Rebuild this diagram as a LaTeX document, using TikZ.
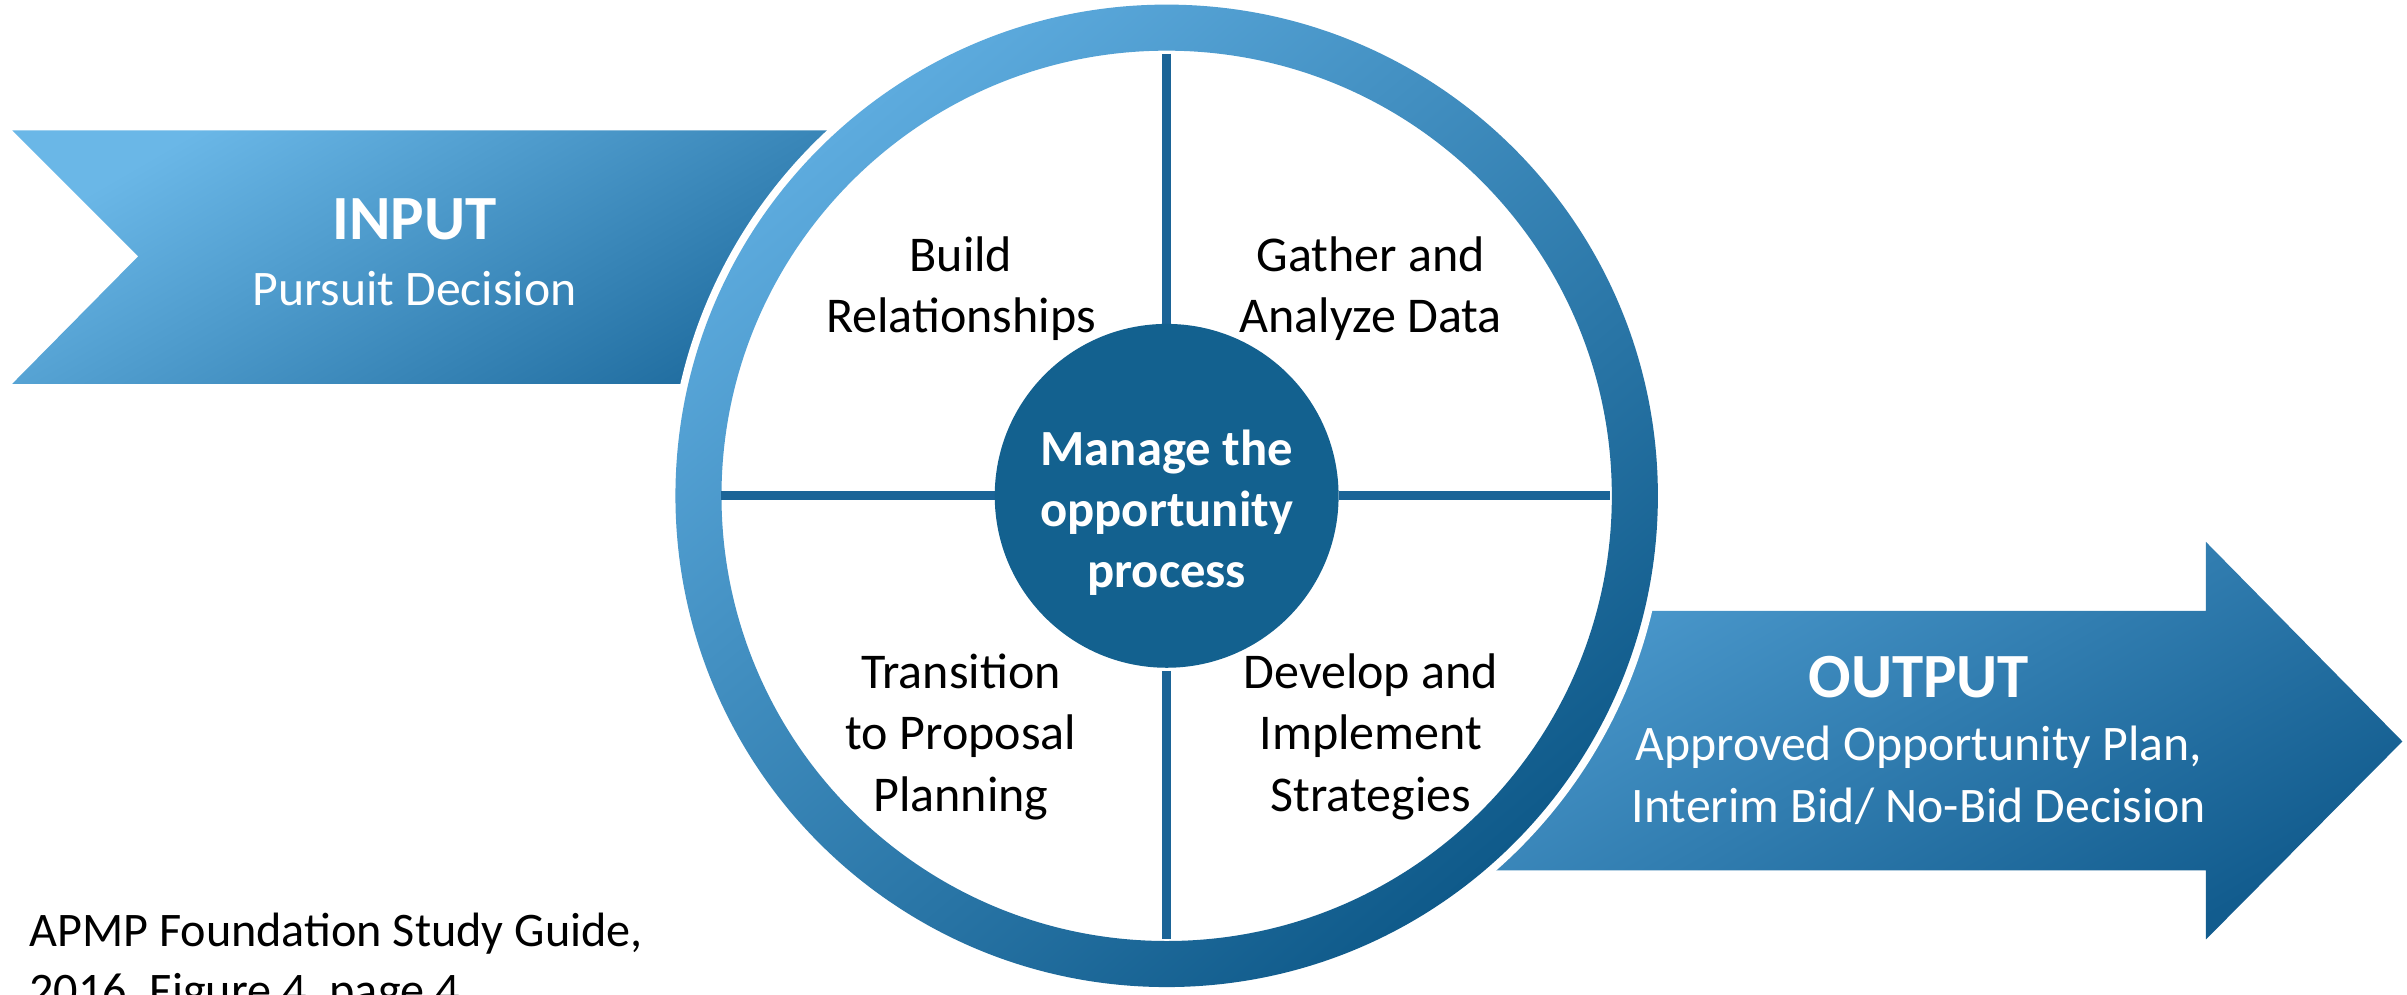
\documentclass[tikz,border=0pt]{standalone}
\usepackage{fontspec}
\setmainfont{Carlito}
\begin{document}
\begin{tikzpicture}[x=0.5pt,y=-0.5pt]
\definecolor{chevlight}{HTML}{6AB7E7}
\definecolor{chevdark}{HTML}{1D6A9D}
\definecolor{arrlight}{HTML}{509ED2}
\definecolor{arrdark}{HTML}{125C8E}
\definecolor{ringlight}{HTML}{5DABDE}
\definecolor{ringdark}{HTML}{0F5A8A}
\definecolor{centercol}{HTML}{13618F}
\definecolor{linecol}{HTML}{1B6497}
\tikzset{
  quad/.style={align=center, font=\fontsize{16.3pt}{20pt}\selectfont, text=black},
  head/.style={font=\fontsize{20.5pt}{24pt}\selectfont\bfseries, text=white},
  sub/.style={align=center, font=\fontsize{16.2pt}{20pt}\selectfont, text=white},
  divider/.style={line width=3pt, draw=linecol}
}
\useasboundingbox (0,0) rectangle (1568,648);
\clip (0,0) rectangle (1568,648);
% input chevron
\shade[top color=chevlight, bottom color=chevdark, shading angle=30]
  (8,85) -- (600,85) -- (600,250) -- (8,250) -- (90,167) -- cycle;
% output arrow
\shade[top color=arrlight, bottom color=arrdark, shading angle=30]
  (900,398) -- (1437,398) -- (1437,353) -- (1565,483) -- (1437,612) -- (1437,567) -- (900,567) -- cycle;
% ring
\coordinate (C) at (760,323);
\fill[white] (C) circle[radius=162.5pt];
\shade[top color=ringlight, bottom color=ringdark, shading angle=40, even odd rule]
  (C) circle[radius=160pt] (C) circle[radius=145pt];
% dividers
\coordinate (t1) at (760,35);  \coordinate (t2) at (760,213);
\coordinate (b1) at (760,437); \coordinate (b2) at (760,612);
\coordinate (l1) at (470,323); \coordinate (l2) at (648,323);
\coordinate (r1) at (872,323); \coordinate (r2) at (1049,323);
\draw[divider] (t1) -- (t2);
\draw[divider] (b1) -- (b2);
\draw[divider] (l1) -- (l2);
\draw[divider] (r1) -- (r2);
% center
\node[circle, fill=centercol, minimum size=112pt, inner sep=0pt] (center) at (C) {};
\node[align=center, text=white, font=\fontsize{16.5pt}{19.75pt}\selectfont\bfseries]
  (centertext) at (760,334) {Manage the\\opportunity\\process};
% quadrants
\node[quad] (q1) at (626,188) {Build\\Relationships};
\node[quad] (q2) at (893,188) {Gather and\\Analyze Data};
\node[quad] (q3) at (626,480) {Transition\\to Proposal\\Planning};
\node[quad] (q4) at (893,480) {Develop and\\Implement\\Strategies};
% input / output texts
\node[head] (inhead) at (270,143) {INPUT};
\node[sub] (insub) at (270,188) {Pursuit Decision};
\node[head] (outhead) at (1250,441) {OUTPUT};
\node[sub] (outsub) at (1250,505) {Approved Opportunity Plan,\\Interim Bid/ No-Bid Decision};
% footnote
\node[anchor=west, align=left, font=\fontsize{15.7pt}{19.5pt}\selectfont] (note) at (12,628)
  {APMP Foundation Study Guide,\\2016, Figure 4, page 4};
\end{tikzpicture}
\end{document}
